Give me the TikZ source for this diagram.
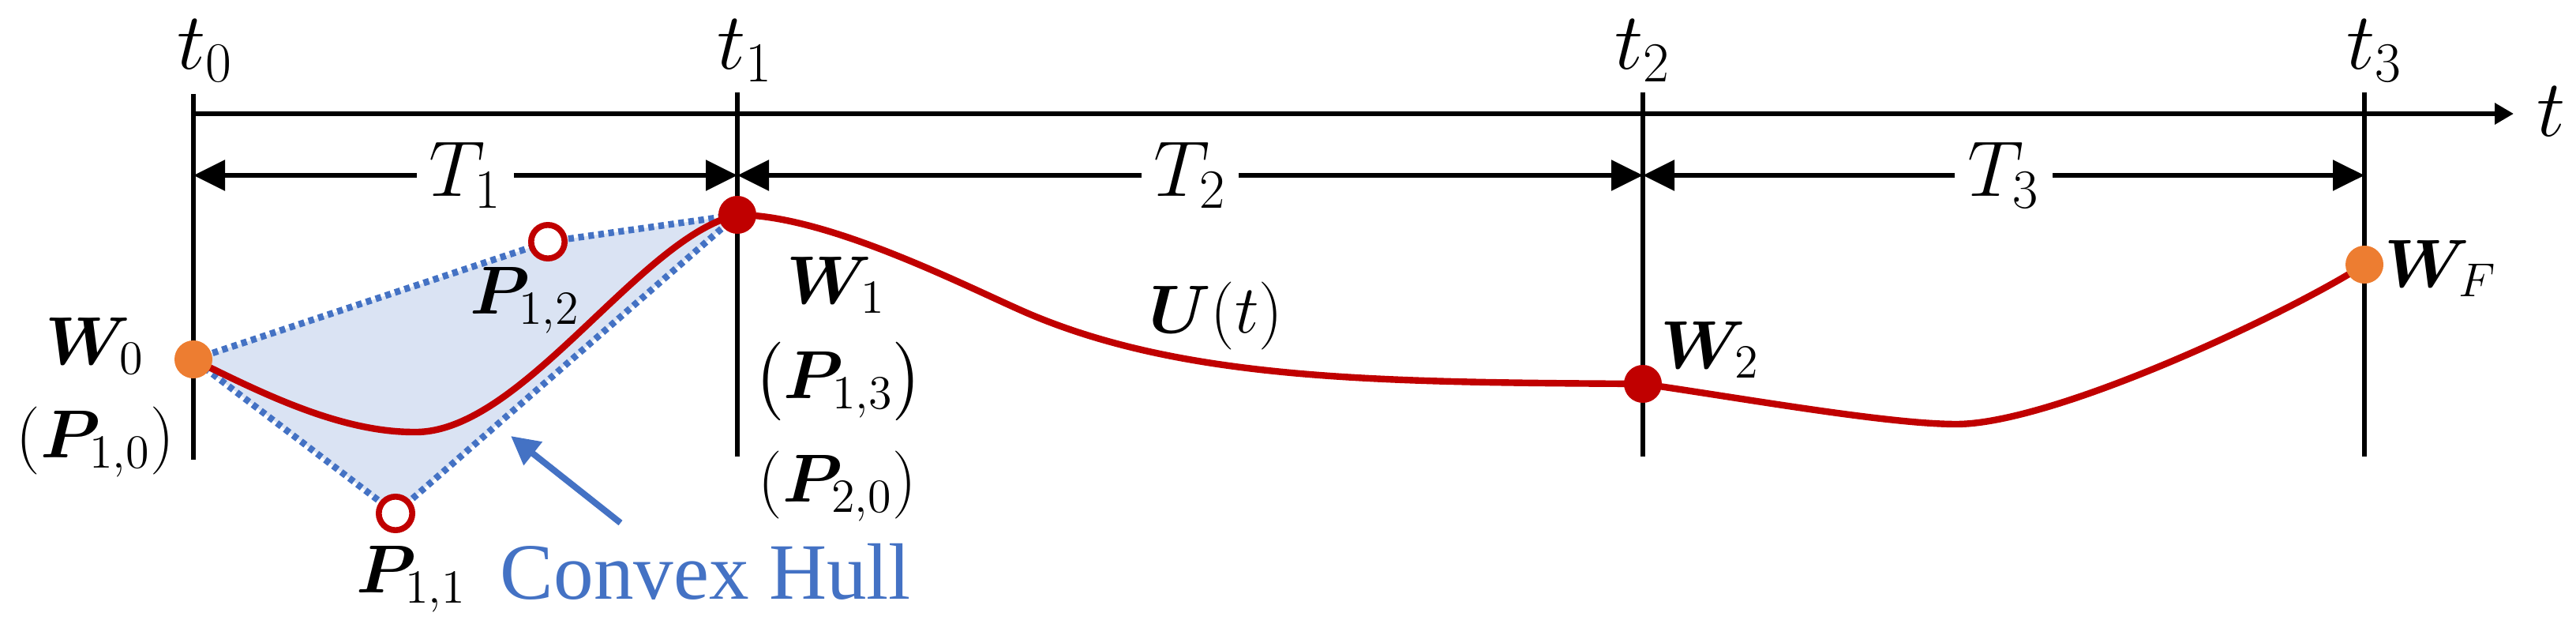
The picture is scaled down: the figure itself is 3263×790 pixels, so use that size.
\RequirePackage{fix-cm}
\documentclass[tikz,border=0pt]{standalone}
\usepackage{amsmath,bm}
\usepackage{fontspec}
\newfontfamily\hullfont{Liberation Serif}
\usetikzlibrary{arrows.meta}
\definecolor{curvered}{RGB}{192,0,0}
\definecolor{wporange}{RGB}{237,125,49}
\definecolor{hullfill}{RGB}{218,227,243}
\definecolor{hullblue}{RGB}{68,114,196}
\begin{document}
\begin{tikzpicture}[x=0.25pt,y=-0.25pt,
  tick/.style={line width=1.5pt,black},
  axisline/.style={line width=1.7pt,black,-{Triangle[length=6pt,width=6.5pt]}},
  spanarrow/.style={line width=1.45pt,black,{Triangle[length=10pt,width=9.5pt]}-{Triangle[length=10pt,width=9.5pt]}},
  spanlbl/.style={fill=white,inner xsep=4pt,inner ysep=0pt,font=\fontsize{25}{29}\selectfont},
  tlbl/.style={inner sep=0pt,font=\fontsize{25.5}{29}\selectfont},
  lbl/.style={inner sep=0pt,font=\fontsize{21.5}{25}\selectfont},
  hullline/.style={draw=hullblue,line width=2.1pt,dash pattern=on 1.8pt off 1.4pt},
  curve/.style={draw=curvered,line width=2.1pt},
  wpdot/.style={circle,inner sep=0pt,minimum size=12pt,draw=none},
  ctrlpt/.style={circle,inner sep=0pt,minimum size=10.6pt,draw=curvered,line width=1.9pt,fill=white},
  hullarrow/.style={draw=hullblue,line width=2pt,-{Triangle[length=9pt,width=9pt]}}
]
\useasboundingbox (0,0) rectangle (3263,790);

% key coordinates
\coordinate (W0) at (245,455);
\coordinate (P12c) at (694,306);
\coordinate (W1) at (934,272);
\coordinate (P11c) at (501,650);
\coordinate (W2) at (2081,486);
\coordinate (WF) at (2995,335);
\coordinate (m1) at (524,547);
\coordinate (m2) at (1305,398);
\coordinate (m3) at (2478,537);

% vertical ticks
\coordinate (v0t) at (245,119); \coordinate (v0b) at (245,582);
\coordinate (v1t) at (934,117); \coordinate (v1b) at (934,578);
\coordinate (v2t) at (2081,117); \coordinate (v2b) at (2081,578);
\coordinate (v3t) at (2995,117); \coordinate (v3b) at (2995,578);
\draw[tick] (v0t) -- (v0b);
\draw[tick] (v1t) -- (v1b);
\draw[tick] (v2t) -- (v2b);
\draw[tick] (v3t) -- (v3b);

% time axis
\coordinate (a0) at (245,144);
\coordinate (aend) at (3184,144);
\draw[axisline] (a0) -- (aend);
\node[tlbl] (tax) at (3231,141) {$t$};

% tick labels
\node[tlbl] (t0) at (260,64) {$t_0$};
\node[tlbl] (t1) at (944,64) {$t_1$};
\node[tlbl] (t2) at (2081,64) {$t_2$};
\node[tlbl] (t3) at (3008,64) {$t_3$};

% span arrows
\coordinate (s0) at (245,222);
\coordinate (s1) at (934,222);
\coordinate (s2) at (2081,222);
\coordinate (s3) at (2995,222);
\draw[spanarrow] (s0) -- node[spanlbl] (T1) {$T_1$} (s1);
\draw[spanarrow] (s1) -- node[spanlbl] (T2) {$T_2$} (s2);
\draw[spanarrow] (s2) -- node[spanlbl] (T3) {$T_3$} (s3);

% convex hull
\path[fill=hullfill] (W0) -- (P12c) -- (W1) -- (P11c) -- cycle;
\draw[hullline] (W0) -- (P12c) -- (W1) -- (P11c) -- cycle;

% trajectory
\draw[curve] (W0) .. controls (330,497) and (430,547) .. (m1)
  .. controls (660,550) and (810,300) .. (W1)
  .. controls (1050,272) and (1230,366) .. (m2)
  .. controls (1505,482) and (1750,484) .. (W2)
  .. controls (2200,503) and (2390,537) .. (m3)
  .. controls (2600,537) and (2895,399) .. (WF);

% waypoints and control points
\node[wpdot,fill=wporange] (w0dot) at (W0) {};
\node[wpdot,fill=curvered] (w1dot) at (W1) {};
\node[wpdot,fill=curvered] (w2dot) at (W2) {};
\node[wpdot,fill=wporange] (wfdot) at (WF) {};
\node[ctrlpt] (p12) at (P12c) {};
\node[ctrlpt] (p11) at (P11c) {};

% labels
\node[lbl] (lW0) at (120,438) {$\bm{W}_0$};
\node[lbl] (lP10) at (121,560) {$(\bm{P}_{1,0})$};
\node[lbl] (lP12) at (665,380) {$\bm{P}_{1,2}$};
\node[lbl] (lP11) at (521,733) {$\bm{P}_{1,1}$};
\node[lbl] (lW1) at (1059,361) {$\bm{W}_1$};
\node[lbl] (lP13) at (1062,483) {$\bigl(\bm{P}_{1,3}\bigr)$};
\node[lbl] (lP20) at (1061,616) {$(\bm{P}_{2,0})$};
\node[lbl] (lU) at (1540,400) {$\bm{U}(t)$};
\node[lbl] (lW2) at (2166,443) {$\bm{W}_2$};
\node[lbl] (lWF) at (3092,340) {$\bm{W}_F$};

% convex hull annotation
\node[inner sep=0pt,anchor=base,text=hullblue,font=\hullfont\fontsize{25.3}{29}\selectfont] (hull) at (894,758) {Convex Hull};
\coordinate (ha) at (786,662);
\coordinate (hb) at (647,552);
\draw[hullarrow] (ha) -- (hb);
\end{tikzpicture}
\end{document}
